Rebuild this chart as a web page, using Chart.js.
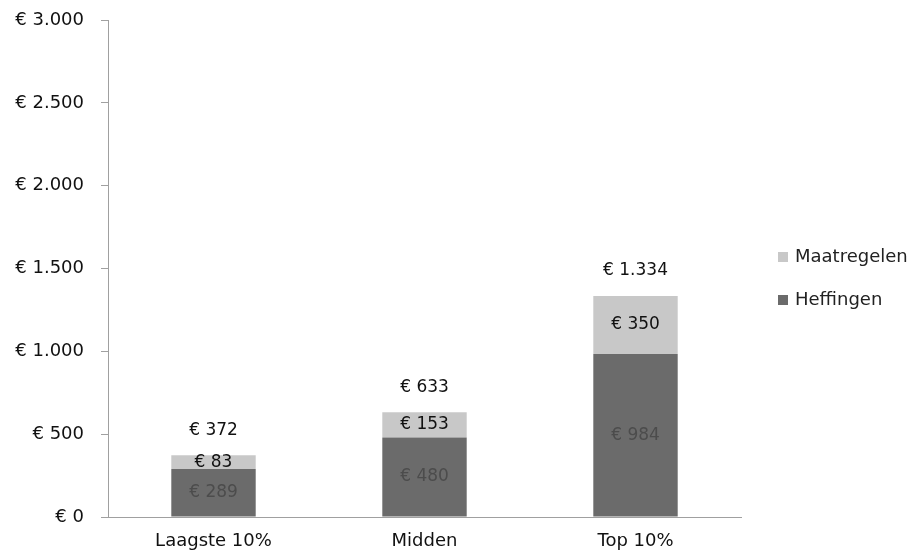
<!DOCTYPE html>
<html>
    <head>
        <title>Heffingen en maatregelen</title>
        <script src="https://cdn.jsdelivr.net/npm/chart.js@4.4.1/dist/chart.umd.min.js"></script>
        <style>
            body { margin: 0; background: #fff; }
            #wrap { width: 923px; height: 554px; }
        </style>
    </head>
    <body>
        <div id="wrap"><canvas id="chart1" width="923" height="554"></canvas></div>

        <script>
            const categories = ['Laagste 10%', 'Midden', 'Top 10%']
            const heffingen = [289, 480, 984]
            const maatregelen = [83, 153, 350]
            const yTicks = [0, 500, 1000, 1500, 2000, 2500, 3000]

            const font = 'DejaVu Sans'
            // € 1.334 style, dutch thousands separator
            const euro = v => '€ ' + String(v).replace(/\B(?=(\d{3})+(?!\d))/g, '.')

            const valueLabels = {
                id: 'valueLabels',
                afterDatasetsDraw(chart) {
                    const ctx = chart.ctx
                    ctx.save()
                    ctx.font = '17px "' + font + '"'
                    ctx.textAlign = 'center'
                    ctx.textBaseline = 'middle'
                    const inner = ['#4c4c4c', '#111']
                    chart.data.datasets.forEach((ds, di) => {
                        const meta = chart.getDatasetMeta(di)
                        meta.data.forEach((bar, i) => {
                            ctx.fillStyle = inner[di]
                            ctx.fillText(euro(ds.data[i]), bar.x, (bar.y + bar.base) / 2)
                        })
                    })
                    // totals above the stack
                    const top = chart.getDatasetMeta(chart.data.datasets.length - 1)
                    ctx.fillStyle = '#111'
                    top.data.forEach((bar, i) => {
                        ctx.fillText(euro(heffingen[i] + maatregelen[i]), bar.x, bar.y - 25)
                    })
                    ctx.restore()
                },
            }

            // legend drawn by hand, top item = last dataset
            const sideLegend = {
                id: 'sideLegend',
                afterDraw(chart) {
                    const ctx = chart.ctx
                    ctx.save()
                    ctx.font = '18px "' + font + '"'
                    ctx.textBaseline = 'middle'
                    const items = chart.data.datasets.slice().reverse()
                    items.forEach((ds, i) => {
                        const y = 257 + i * 43
                        ctx.fillStyle = ds.backgroundColor
                        ctx.fillRect(778, y - 5, 10, 10)
                        ctx.fillStyle = '#222'
                        ctx.fillText(ds.label, 795, y)
                    })
                    ctx.restore()
                },
            }

            let chart = new Chart(document.getElementById('chart1'), {
                type: 'bar',
                data: {
                    labels: categories,
                    datasets: [
                        {
                            label: 'Heffingen',
                            data: heffingen,
                            backgroundColor: '#6b6b6b',
                        },
                        {
                            label: 'Maatregelen',
                            data: maatregelen,
                            backgroundColor: '#c8c8c8',
                        },
                    ],
                },
                options: {
                    responsive: false,
                    animation: false,
                    layout: { padding: { top: 20, left: 0, bottom: 0, right: 182 } },
                    datasets: {
                        bar: { categoryPercentage: 1, barPercentage: 0.4 },
                    },
                    plugins: {
                        legend: { display: false },
                        tooltip: { enabled: false },
                    },
                    scales: {
                        x: {
                            stacked: true,
                            grid: { display: false },
                            border: { display: true, color: '#a0a0a0', width: 1 },
                            ticks: {
                                color: '#111',
                                padding: 6,
                                font: { family: font, size: 18 },
                            },
                            afterFit: s => { s.height = 37; s.paddingLeft = 0; s.paddingRight = 0 },
                        },
                        y: {
                            stacked: true,
                            min: 0,
                            max: 3000,
                            afterBuildTicks: s => { s.ticks = yTicks.map(v => ({ value: v })) },
                            grid: {
                                drawOnChartArea: false,
                                drawTicks: true,
                                tickLength: 7,
                                color: '#a0a0a0',
                            },
                            border: { display: true, color: '#a0a0a0', width: 1 },
                            ticks: {
                                color: '#111',
                                padding: 17,
                                font: { family: font, size: 18 },
                                callback: v => euro(v),
                            },
                            afterFit: s => { s.width = 108; s.paddingTop = 0; s.paddingBottom = 0 },
                        },
                    },
                },
                plugins: [valueLabels, sideLegend],
            })
        </script>
    </body>
</html>
